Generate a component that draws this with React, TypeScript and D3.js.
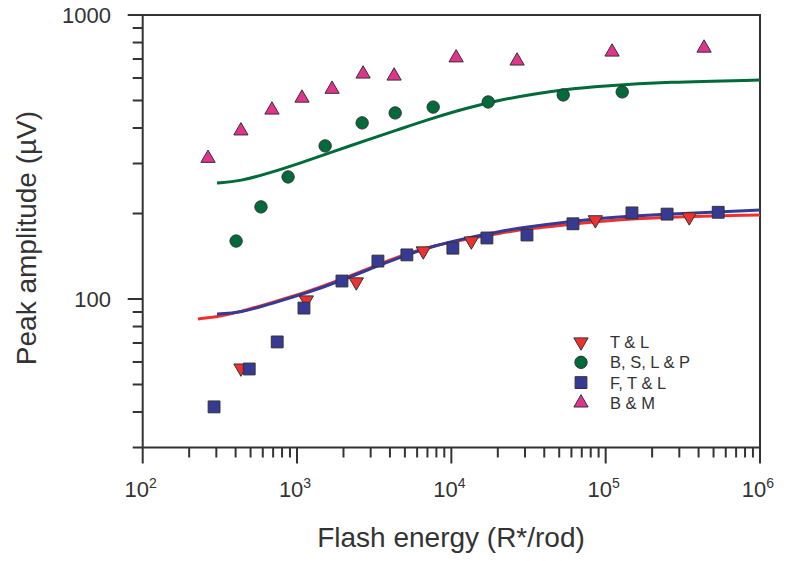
import React from "react"
import * as d3 from "d3"

// flash energy (R*/rod) vs peak amplitude (µV)
const tlX = [433, 1148, 2421, 6580, 13470, 85700, 348000]
const tlY = [57.1, 99.2, 114.8, 147.6, 160, 190, 194.5]

const bslpX = [403, 584, 875, 1521, 2642, 4325, 7625, 17330, 53070, 128000]
const bslpY = [160, 211, 269, 346, 417, 452, 474, 494, 523, 536]

const ftlX = [290, 490, 744, 1109, 1955, 3344, 5150, 10230, 17000, 30900, 61400, 148000, 250000, 536000]
const ftlY = [41.7, 56.7, 70.6, 92.9, 115.7, 136, 143, 151, 164, 168, 184, 201, 199, 202]

const bmX = [265, 433, 688, 1077, 1687, 2680, 4256, 10740, 26670, 110000, 434000]
const bmY = [313, 391, 463, 510, 548, 620, 610, 707, 689, 741, 765]

// fitted curves
const fitRedX = [228, 303, 428, 700, 1163, 1905, 3306, 4873, 7622, 12650, 20700, 33900, 56300, 92000, 250000, 1000000]
const fitRedY = [85.1, 86.5, 90, 97.5, 105.8, 116.7, 131.8, 142.9, 153.8, 162.7, 170.8, 177.8, 182.3, 188.3, 194.6, 197.6]

const fitBlueX = [303, 428, 700, 1163, 1905, 3306, 4873, 7622, 12650, 20700, 33900, 56300, 92000, 250000, 1000000]
const fitBlueY = [88.6, 89.3, 96.8, 105, 115.7, 130.6, 141.6, 153.8, 164, 173.4, 180.6, 186.6, 192.7, 199.2, 205.6]

const fitGreenX = [303, 428, 668, 1047, 1712, 2842, 4650, 7622, 12650, 20700, 33900, 56300, 92000, 250000, 1000000]
const fitGreenY = [255.9, 260, 278, 301, 330, 363, 397, 434, 471, 502, 527, 548, 562, 581, 590]

const xTickExp = [2, 3, 4, 5, 6]
const yTickLabels = [100, 1000]
const legendLabels = ["T & L", "B, S, L & P", "F, T & L", "B & M"]

const RED = "#ee3030"
const GREEN = "#006a3a"
const BLUE = "#363a94"
const PINK = "#e2338f"
const INK = "#333333"
const FONT = "'Liberation Sans', Arial, Helvetica, sans-serif"

const zip = (xs: number[], ys: number[]) => xs.map((x, i) => [x, ys[i]] as [number, number])

export default function App() {
  const left = 142.7, right = 760, top = 15, bottom = 447.5
  const x = d3.scaleLog().domain([1e2, 1e6]).range([left, right])
  const y = d3.scaleLog().domain([30, 1000]).range([bottom, top])

  const line = d3.line<[number, number]>()
    .x((d) => x(d[0]))
    .y((d) => y(d[1]))
    .curve(d3.curveBasis)

  const tri = d3.symbol().type(d3.symbolTriangle).size(88)()
  const circ = d3.symbol().type(d3.symbolCircle).size(120)()
  const sq = d3.symbol().type(d3.symbolSquare).size(140)()

  // minor/major ticks
  const xTicks: number[] = []
  for (let e = 2; e < 6; e++) for (let m = 1; m < 10; m++) xTicks.push(m * Math.pow(10, e))
  xTicks.push(1e6)
  const yTicks: number[] = [30, 40, 50, 60, 70, 80, 90, 100, 200, 300, 400, 500, 600, 700, 800, 900, 1000]
  const isMajor = (v: number) => Math.abs(Math.log10(v) - Math.round(Math.log10(v))) < 1e-9

  const series = [
    { xs: tlX, ys: tlY, path: tri, rot: 180, fill: RED },
    { xs: bslpX, ys: bslpY, path: circ, rot: 0, fill: GREEN },
    { xs: ftlX, ys: ftlY, path: sq, rot: 0, fill: BLUE },
    { xs: bmX, ys: bmY, path: tri, rot: 0, fill: PINK },
  ]

  return (
    <svg width={800} height={561} style={{ position: "absolute", left: 0, top: 0, background: "#fff" }} fontFamily={FONT}>
      {/* frame */}
      <rect x={left} y={top} width={right - left} height={bottom - top} fill="none" stroke={INK} strokeWidth={2} />

      {/* y ticks */}
      {yTicks.map((v) => (
        <line key={"yt" + v} x1={left - (isMajor(v) ? 15 : 10)} x2={left} y1={y(v)} y2={y(v)} stroke={INK} strokeWidth={2} />
      ))}
      {yTickLabels.map((v) => (
        <text key={"yl" + v} x={111} y={y(v) + 8} textAnchor="end" fontSize={22} fill={INK}>{v}</text>
      ))}

      {/* x ticks */}
      {xTicks.map((v) => (
        <line key={"xt" + v} x1={x(v)} x2={x(v)} y1={bottom} y2={bottom + (isMajor(v) ? 16 : 10)} stroke={INK} strokeWidth={2} />
      ))}
      {xTickExp.map((e) => (
        <text key={"xl" + e} x={x(Math.pow(10, e)) - 2} y={497} textAnchor="middle" fontSize={22} fill={INK}>
          10<tspan fontSize={14} dy={-9}>{e}</tspan>
        </text>
      ))}

      {/* axis titles */}
      <text x={451} y={547} textAnchor="middle" fontSize={28} fill={INK}>Flash energy (R*/rod)</text>
      <text transform="translate(36,238) rotate(-90)" textAnchor="middle" fontSize={28} fill={INK}>Peak amplitude (µV)</text>

      {/* fits */}
      <path d={line(zip(fitGreenX, fitGreenY)) || ""} fill="none" stroke={GREEN} strokeWidth={3} />
      <path d={line(zip(fitRedX, fitRedY)) || ""} fill="none" stroke={RED} strokeWidth={3} />
      <path d={line(zip(fitBlueX, fitBlueY)) || ""} fill="none" stroke={BLUE} strokeWidth={3} />

      {/* points */}
      {series.map((s, si) =>
        s.xs.map((xv, i) => (
          <path key={si + "-" + i} d={s.path || ""} transform={`translate(${x(xv)},${y(s.ys[i])}) rotate(${s.rot})`}
            fill={s.fill} stroke={INK} strokeWidth={1} />
        ))
      )}

      {/* legend */}
      {series.map((s, i) => (
        <g key={"lg" + i} transform={`translate(581,${342 + i * 20.3})`}>
          <path d={s.path || ""} transform={`rotate(${s.rot})`} fill={s.fill} stroke={INK} strokeWidth={1} />
          <text x={29} y={6} fontSize={16.5} fill={INK}>{legendLabels[i]}</text>
        </g>
      ))}
    </svg>
  )
}
